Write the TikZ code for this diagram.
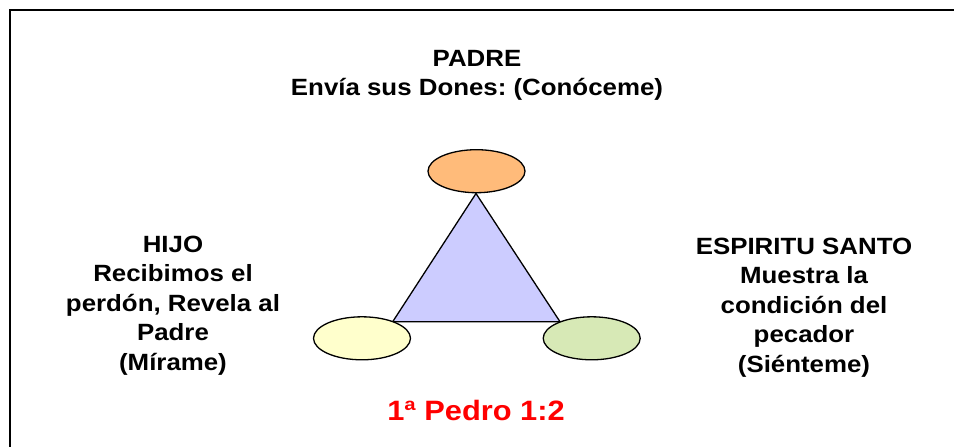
\documentclass[tikz,border=0pt]{standalone}
\usepackage{fontspec}
\setmainfont[FakeStretch=1.1]{Liberation Sans}
\frenchspacing
\usetikzlibrary{shapes.geometric}
\definecolor{orangefill}{RGB}{255,187,122}
\definecolor{yellowfill}{RGB}{255,255,204}
\definecolor{greenfill}{RGB}{215,233,182}
\definecolor{trifill}{RGB}{204,204,255}
\tikzset{
  oval/.style={ellipse, draw=black, line width=1.3pt, inner sep=0pt,
               minimum width=97pt, minimum height=43pt},
  label text/.style={align=center, anchor=base, inner sep=0pt,
               font=\bfseries\fontsize{23.5}{29.5}\selectfont},
  ref text/.style={anchor=base, inner sep=0pt, text=red,
               font=\bfseries\fontsize{28}{34}\selectfont}
}
\begin{document}
\begin{tikzpicture}[x=1pt, y=-1pt]
  \useasboundingbox (0,0) rectangle (954,447);
  % frame (only left and top edges visible)
  \draw[line width=2pt] (10,460) -- (10,10) -- (970,10);
  % triangle
  \coordinate (apex) at (476,193.5);
  \coordinate (bl) at (392.7,321.7);
  \coordinate (br) at (560,321.7);
  \draw[line width=1.3pt, fill=trifill, line join=miter] (apex) -- (bl) -- (br) -- cycle;
  % ovals
  \node[oval, fill=orangefill] (padre) at (476.5,171.2) {};
  \node[oval, fill=yellowfill] (hijo) at (362,338.3) {};
  \node[oval, fill=greenfill] (espiritu) at (591.7,338.3) {};
  % texts (anchor base = baseline of last line)
  \node[label text] (tpadre) at (477,95.5) {PADRE\\Envía sus Dones: (Conóceme)};
  \node[label text] (thijo) at (173,370) {HIJO\\Recibimos el\\perdón, Revela al\\Padre\\(Mírame)};
  \node[label text] (tesp) at (804,372) {ESPIRITU SANTO\\Muestra la\\condición del\\pecador\\(Siénteme)};
  \node[ref text] (tref) at (476,420.7) {1ª Pedro 1:2};
\end{tikzpicture}
\end{document}
